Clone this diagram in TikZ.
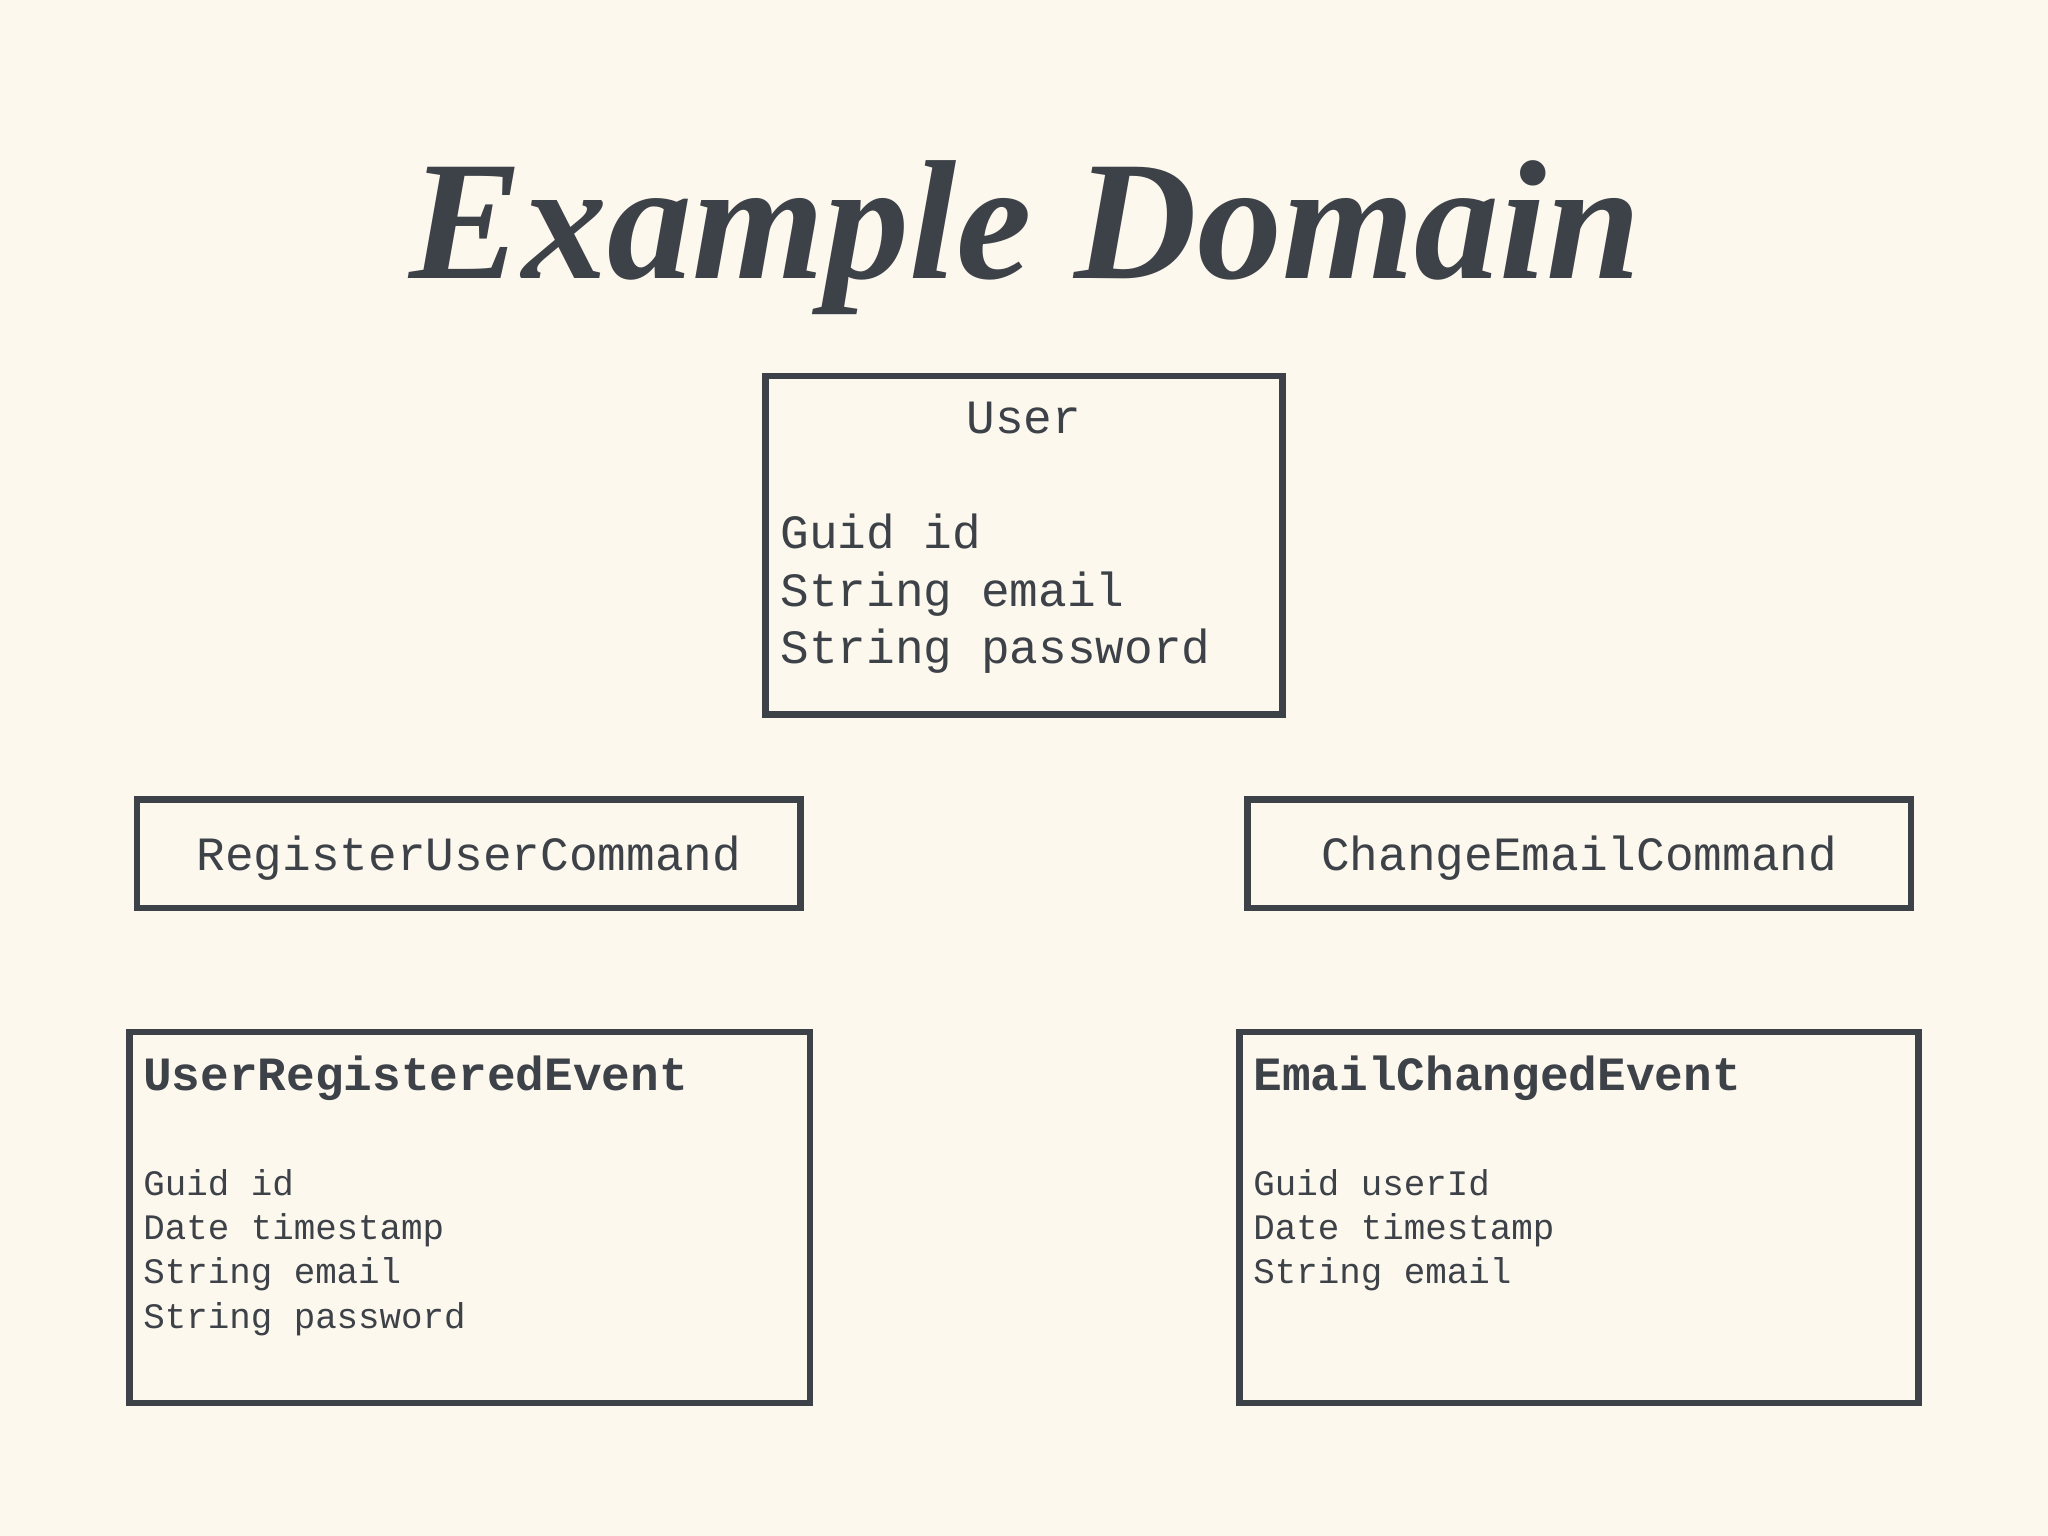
\documentclass[tikz,border=0pt]{standalone}
\usepackage{fontspec}
\setmonofont{Liberation Mono}
\newfontfamily\titlefont{Liberation Serif}
\definecolor{bg}{HTML}{FDF8EE}
\definecolor{ink}{HTML}{3D4148}
\tikzset{box/.style={draw=ink,line width=1.4pt},
 big/.style={font=\ttfamily\fontsize{10.4pt}{12pt}\selectfont,text=ink,inner sep=0pt},
 small/.style={font=\ttfamily\fontsize{7.8pt}{9pt}\selectfont,text=ink,inner sep=0pt},
 smallb/.style={font=\ttfamily\bfseries\fontsize{10.4pt}{12pt}\selectfont,text=ink,inner sep=0pt}}
\begin{document}
\begin{tikzpicture}[x=0.01cm,y=-0.01cm]
\fill[bg] (0,0) rectangle (1568,1176);
\useasboundingbox (0,0) rectangle (1568,1176);
\node[anchor=base,inner sep=0pt,text=ink,font=\titlefont\bfseries\itshape\fontsize{37pt}{40pt}\selectfont] (title) at (785,213) {Example Domain};
% User
\draw[box] (586,288) rectangle (982,547);
\node[big,anchor=base] (un) at (784,332) {User};
\node[big,anchor=base west] (u1) at (597,420) {Guid id};
\node[big,anchor=base west] (u2) at (597,464) {String email};
\node[big,anchor=base west] (u3) at (597,508) {String password};
% commands
\draw[box] (105,612) rectangle (613,695);
\node[big] (rc) at (359,657) {RegisterUserCommand};
\draw[box] (955,612) rectangle (1463,695);
\node[big] (cc) at (1209,657) {ChangeEmailCommand};
% events
\draw[box] (99,790) rectangle (620,1074);
\node[smallb,anchor=base west] (ue) at (109,835) {UserRegisteredEvent};
\node[small,anchor=base west] (ue1) at (109,915) {Guid id};
\node[small,anchor=base west] (ue2) at (109,949) {Date timestamp};
\node[small,anchor=base west] (ue3) at (109,983) {String email};
\node[small,anchor=base west] (ue4) at (109,1017) {String password};
\draw[box] (949,790) rectangle (1469,1074);
\node[smallb,anchor=base west] (ee) at (959,835) {EmailChangedEvent};
\node[small,anchor=base west] (ee1) at (959,915) {Guid userId};
\node[small,anchor=base west] (ee2) at (959,949) {Date timestamp};
\node[small,anchor=base west] (ee3) at (959,983) {String email};
\end{tikzpicture}
\end{document}
